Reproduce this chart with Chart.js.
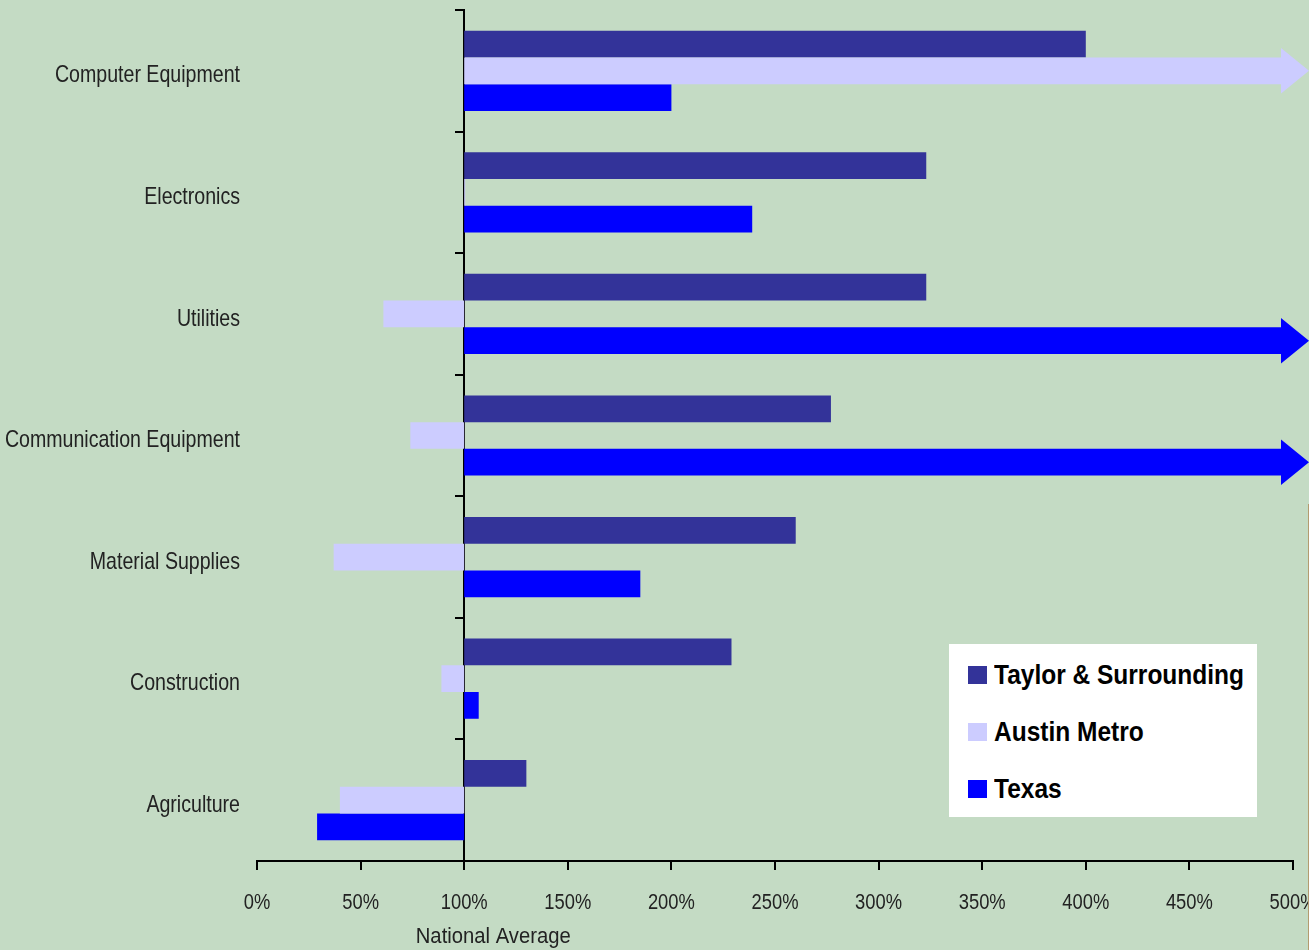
<!DOCTYPE html>
<html>
<head>
<meta charset="utf-8">
<title>Industry concentration vs national average</title>
<script src="https://cdn.jsdelivr.net/npm/chart.js@4.4.0/dist/chart.umd.min.js"></script>
<style>
    html, body { margin: 0; padding: 0; overflow: hidden; background: #C4DBC4; }
    #wrap { position: relative; width: 1309px; height: 950px; }
    #legend {
        position: absolute; left: 949px; top: 644px; width: 308px; height: 173px;
        background: #fff; box-sizing: border-box; padding: 2px 0 0 19px;
        font: bold 28px "Liberation Sans", Arial, sans-serif; color: #000;
    }
    #legend .item { display: flex; align-items: center; height: 57px; white-space: nowrap; }
    #legend .swatch { width: 19px; height: 18px; margin-right: 7px; flex: none; }
    /* no narrow font installed, so squeeze the text */
    #legend .name { display: inline-block; transform: scaleX(0.875); transform-origin: left center; }
    #edge { position: absolute; left: 1308px; top: 504px; width: 1px; height: 446px; background: #B39B6F; }
</style>
</head>
<body>
<div id="wrap">
    <canvas id="industryChart" width="1309" height="950"></canvas>
    <div id="legend"></div>
    <div id="edge"></div>
</div>
<script>
// ========================================
// DATA (percent of national average)
// ========================================
const categories = ['Computer Equipment', 'Electronics', 'Utilities', 'Communication Equipment',
                    'Material Supplies', 'Construction', 'Agriculture'];
const seriesNames = ['Taylor & Surrounding', 'Austin Metro', 'Texas'];
const seriesColors = ['#333399', '#CCCCFF', '#0000FF'];

const nationalAverage = 100;
// values above axisMax run off the chart and get an arrow
const taylorValues = [400, 323, 323, 277, 260, 229, 130];
const austinValues = [550, 100.5, 61, 74, 37, 89, 40];
const texasValues  = [200, 239, 550, 550, 185, 107, 29];

const axisMin = 0;
const axisMax = 500;
const axisStep = 50;
const axisTitle = 'National Average';

const FONT = '"Liberation Sans", Arial, sans-serif';
const TEXT = '#222';

// ========================================
// TEXT HELPER (fake Arial Narrow)
// ========================================
function narrowText(ctx, text, x, y, size, squeeze, align) {
    ctx.save();
    ctx.font = size + 'px ' + FONT;
    ctx.fillStyle = TEXT;
    ctx.textAlign = align;
    ctx.textBaseline = 'middle';
    ctx.translate(x, y);
    ctx.scale(squeeze, 1);
    ctx.fillText(text, 0, 0);
    ctx.restore();
}

// ========================================
// PLUGINS
// ========================================
// bars that go past the axis are drawn as arrows
const offScaleArrows = {
    id: 'offScaleArrows',
    afterDatasetsDraw(chart) {
        const { ctx, chartArea } = chart;
        const xScale = chart.scales.x;
        chart.data.datasets.forEach((ds, di) => {
            const meta = chart.getDatasetMeta(di);
            meta.data.forEach((bar, i) => {
                if (ds.data[i][1] <= xScale.max) return;
                const { base, y, height } = bar.getProps(['base', 'y', 'height'], true);
                const half = height / 2;
                const headHalf = half * 1.7;
                const neck = chartArea.right - 12;
                const tip = chartArea.right + 16;
                ctx.save();
                ctx.fillStyle = seriesColors[di];
                ctx.beginPath();
                ctx.moveTo(base, y - half);
                ctx.lineTo(neck, y - half);
                ctx.lineTo(neck, y - headHalf);
                ctx.lineTo(tip, y);
                ctx.lineTo(neck, y + headHalf);
                ctx.lineTo(neck, y + half);
                ctx.lineTo(base, y + half);
                ctx.closePath();
                ctx.fill();
                ctx.restore();
            });
        });
    }
};

// category names, tick labels and axis title
const axisLabels = {
    id: 'axisLabels',
    afterDraw(chart) {
        const { ctx, chartArea } = chart;
        const xScale = chart.scales.x;
        const yScale = chart.scales.y;
        categories.forEach((name, i) => {
            narrowText(ctx, name, chartArea.left - 17, yScale.getPixelForValue(i) + 5, 24, 0.816, 'right');
        });
        xScale.ticks.forEach(t => {
            narrowText(ctx, t.value + '%', xScale.getPixelForValue(t.value), chartArea.bottom + 42, 22, 0.835, 'center');
        });
        narrowText(ctx, axisTitle, xScale.getPixelForValue(nationalAverage + 14), chartArea.bottom + 76, 22, 0.92, 'center');
    }
};

// ========================================
// CHART
// ========================================
function floating(values) {
    return values.map(v => [nationalAverage, v]);
}

const seriesValues = [taylorValues, austinValues, texasValues];

const datasets = seriesNames.map((name, i) => ({
    label: name,
    data: floating(seriesValues[i]),
    backgroundColor: ctx => (seriesValues[i][ctx.dataIndex] > axisMax ? 'rgba(0,0,0,0)' : seriesColors[i]),
    borderWidth: 0,
    categoryPercentage: 0.66,
    barPercentage: 1.0
}));

Chart.defaults.font.family = FONT;
Chart.defaults.color = TEXT;

new Chart(document.getElementById('industryChart'), {
    type: 'bar',
    data: { labels: categories, datasets: datasets },
    options: {
        indexAxis: 'y',
        responsive: false,
        animation: false,
        layout: { padding: { top: 10, right: 16, left: 257, bottom: 0 } },
        plugins: {
            legend: { display: false },
            tooltip: { enabled: false }
        },
        scales: {
            x: {
                type: 'linear',
                min: axisMin,
                max: axisMax,
                ticks: { stepSize: axisStep, display: false },
                grid: { drawOnChartArea: false, drawTicks: true, tickLength: 9, color: '#000', lineWidth: 2 },
                border: { color: '#000', width: 2 },
                afterFit: scale => { scale.height = 89; scale.paddingLeft = 0; scale.paddingRight = 0; }
            },
            // axis line sits on the national average
            y: {
                type: 'category',
                position: { x: nationalAverage },
                offset: true,
                ticks: { display: false },
                grid: { offset: true, drawOnChartArea: false, drawTicks: true, tickLength: 8, color: '#000', lineWidth: 2 },
                border: { color: '#000', width: 2 }
            }
        }
    },
    plugins: [offScaleArrows, axisLabels]
});

// ========================================
// LEGEND
// ========================================
const legendEl = document.getElementById('legend');
seriesNames.forEach((name, i) => {
    const item = document.createElement('div');
    item.className = 'item';
    item.innerHTML = `<span class="swatch" style="background:${seriesColors[i]}"></span><span class="name">${name.replace('&', '&amp;')}</span>`;
    legendEl.appendChild(item);
});
</script>
</body>
</html>
